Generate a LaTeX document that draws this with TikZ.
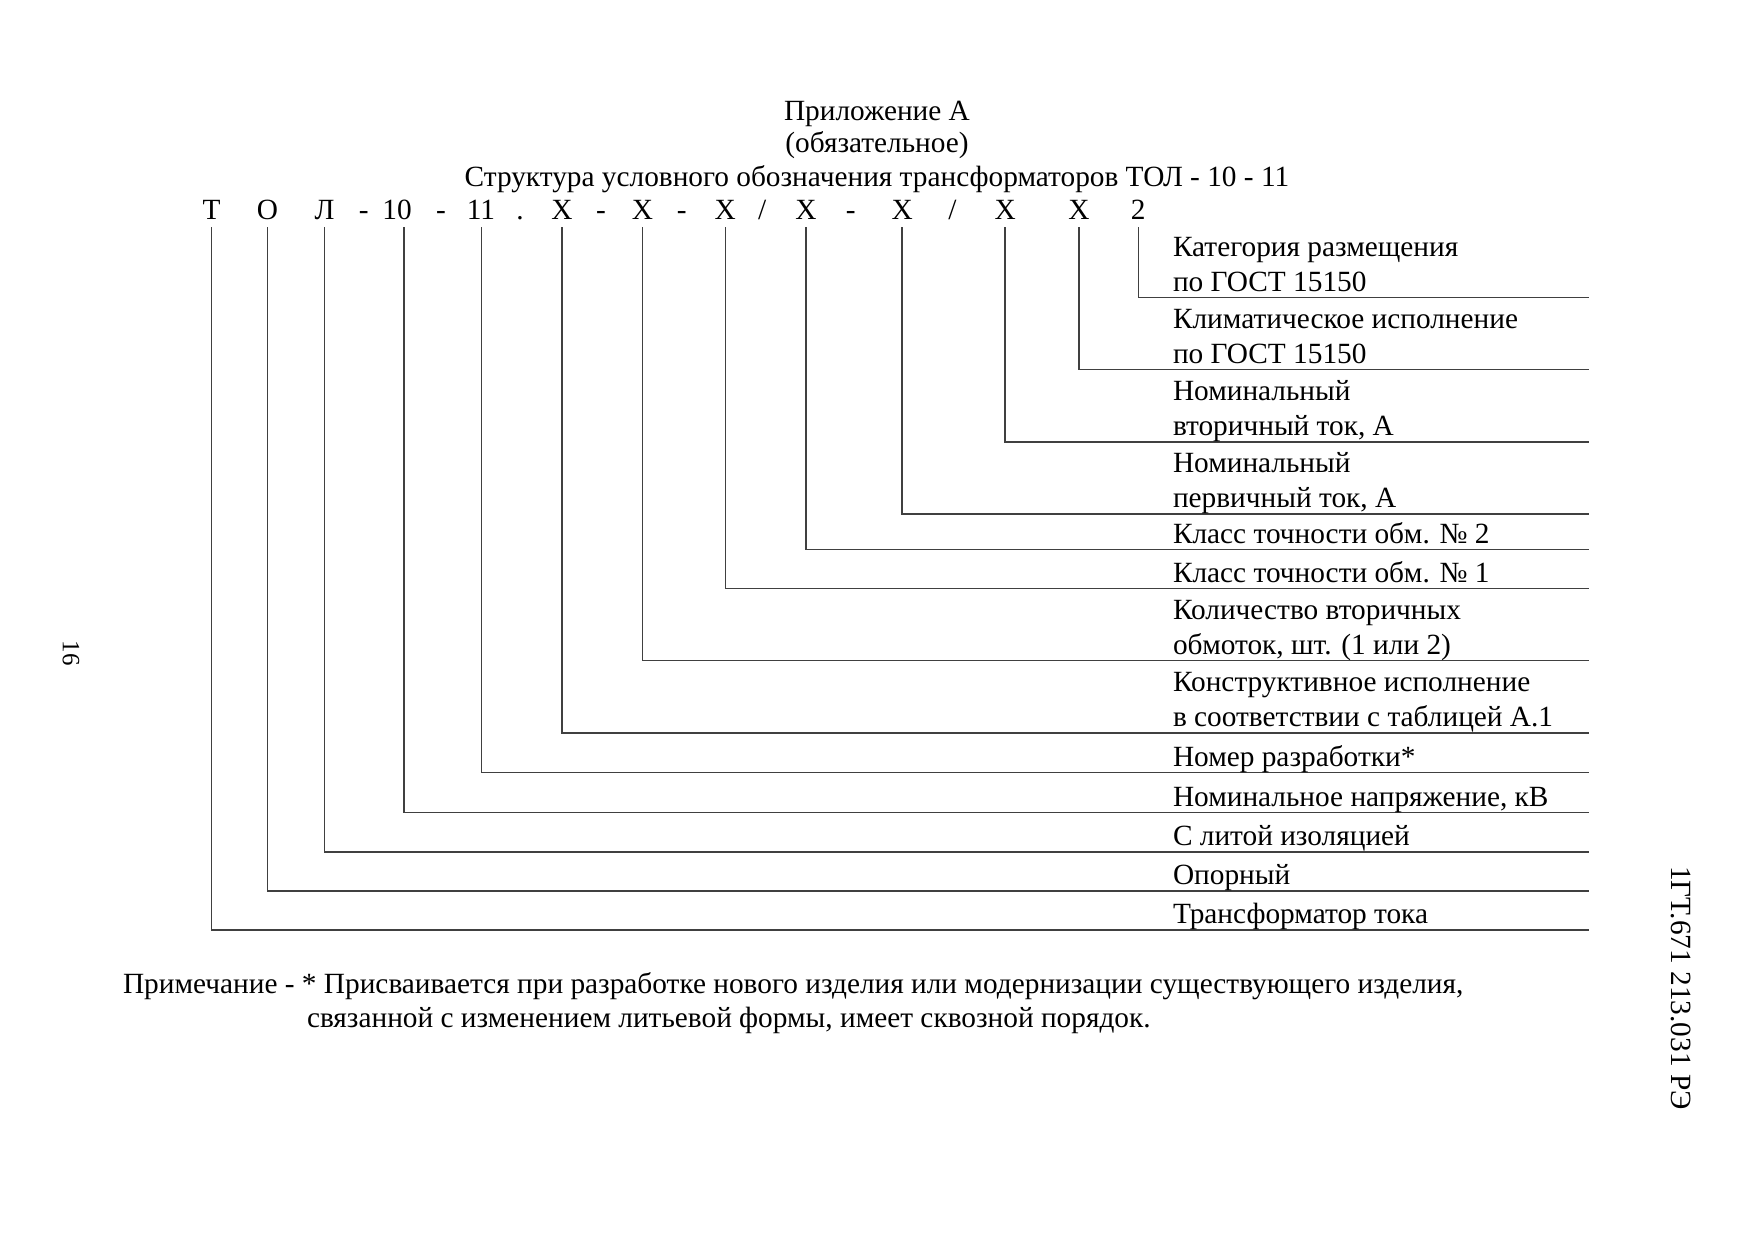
\documentclass[tikz,border=0pt]{standalone}
\usepackage{fontspec}
\setmainfont{Liberation Serif}
\begin{document}
\begin{tikzpicture}[x=0.169231mm,y=-0.169231mm,
  txt/.style={inner sep=0pt, outer sep=0pt, font=\fontsize{14.12pt}{17pt}\selectfont},
  lbl/.style={txt, anchor=base west},
  hdr/.style={txt, anchor=base},
  codech/.style={txt, anchor=base},
  ln/.style={line width=0.7pt, draw=black!75}]
\fill[white] (0,0) rectangle (1755,1241);
\useasboundingbox (0,0) rectangle (1755,1241);

% header
\node[hdr] (h1) at (877,120) {Приложение А};
\node[hdr] (h2) at (877,152) {(обязательное)};
\node[hdr] (h3) at (877,186) {Структура условного обозначения трансформаторов ТОЛ - 10 - 11};

% code row
\node[codech] (c1)  at (211.5,219) {Т};
\node[codech] (c2)  at (267.5,219) {О};
\node[codech] (c3)  at (324.6,219) {Л};
\node[codech] (s1)  at (363.8,219) {-};
\node[codech] (c4)  at (397,219) {10};
\node[codech] (s2)  at (441,219) {-};
\node[codech] (c5)  at (481,219) {11};
\node[codech] (s3)  at (520,219) {.};
\node[codech] (c6)  at (561.9,219) {Х};
\node[codech] (s4)  at (601,219) {-};
\node[codech] (c7)  at (642.5,219) {Х};
\node[codech] (s5)  at (681.7,219) {-};
\node[codech] (c8)  at (725.3,219) {Х};
\node[codech] (s6)  at (762.2,219) {/};
\node[codech] (c9)  at (805.9,219) {Х};
\node[codech] (s7)  at (850.7,219) {-};
\node[codech] (c10) at (902.2,219) {Х};
\node[codech] (s8)  at (952.5,219) {/};
\node[codech] (c11) at (1005.1,219) {Х};
\node[codech] (c12) at (1079,219) {Х};
\node[codech] (c13) at (1138.3,219) {2};

% tops of leader lines
\coordinate (t1)  at (211.5,227);
\coordinate (t2)  at (267.5,227);
\coordinate (t3)  at (324.6,227);
\coordinate (t4)  at (404,227);
\coordinate (t5)  at (481.3,227);
\coordinate (t6)  at (561.9,227);
\coordinate (t7)  at (642.5,227);
\coordinate (t8)  at (725.3,227);
\coordinate (t9)  at (805.9,227);
\coordinate (t10) at (902.2,227);
\coordinate (t11) at (1005.1,227);
\coordinate (t12) at (1079,227);
\coordinate (t13) at (1138.3,227);

% right ends of leader lines
\coordinate (r13) at (1589,297.7);
\coordinate (r12) at (1589,369.4);
\coordinate (r11) at (1589,442.1);
\coordinate (r10) at (1589,513.8);
\coordinate (r9)  at (1589,549.6);
\coordinate (r8)  at (1589,588.7);
\coordinate (r7)  at (1589,660.4);
\coordinate (r6)  at (1589,733.1);
\coordinate (r5)  at (1589,772.3);
\coordinate (r4)  at (1589,812.6);
\coordinate (r3)  at (1589,851.8);
\coordinate (r2)  at (1589,891.0);
\coordinate (r1)  at (1589,930.1);

\foreach \i in {1,...,13} { \draw[ln] (t\i) |- (r\i); }

% labels
\node[lbl] (l13a) at (1173,256.5) {Категория размещения};
\node[lbl] (l13b) at (1173,291.5) {по ГОСТ 15150};
\node[lbl] (l12a) at (1173,328) {Климатическое исполнение};
\node[lbl] (l12b) at (1173,363) {по ГОСТ 15150};
\node[lbl] (l11a) at (1173,400.5) {Номинальный};
\node[lbl] (l11b) at (1173,435.5) {вторичный ток, А};
\node[lbl] (l10a) at (1173,472.5) {Номинальный};
\node[lbl] (l10b) at (1173,507.5) {первичный ток, А};
\node[lbl] (l9)   at (1173,543.3) {Класс точности обм. № 2};
\node[lbl] (l8)   at (1173,582.4) {Класс точности обм. № 1};
\node[lbl] (l7a)  at (1173,619) {Количество вторичных};
\node[lbl] (l7b)  at (1173,654) {обмоток, шт. (1 или 2)};
\node[lbl] (l6a)  at (1173,691.5) {Конструктивное исполнение};
\node[lbl] (l6b)  at (1173,726.5) {в соответствии с таблицей А.1};
\node[lbl] (l5)   at (1173,766) {Номер разработки*};
\node[lbl] (l4)   at (1173,806.3) {Номинальное напряжение, кВ};
\node[lbl] (l3)   at (1173,845.5) {С литой изоляцией};
\node[lbl] (l2)   at (1173,884.7) {Опорный};
\node[lbl] (l1)   at (1173,923.8) {Трансформатор тока};

% note
\node[lbl] (n1) at (123,993) {Примечание - * Присваивается при разработке нового изделия или модернизации существующего изделия,};
\node[lbl] (n2) at (307,1027) {связанной с изменением литьевой формы, имеет сквозной порядок.};

% margin texts
\node[txt, font=\fontsize{12pt}{14pt}\selectfont, rotate=-90] (pg) at (71,653) {16};
\node[txt, rotate=-90] (doc) at (1681,988) {1ГТ.671 213.031 РЭ};
\end{tikzpicture}
\end{document}
